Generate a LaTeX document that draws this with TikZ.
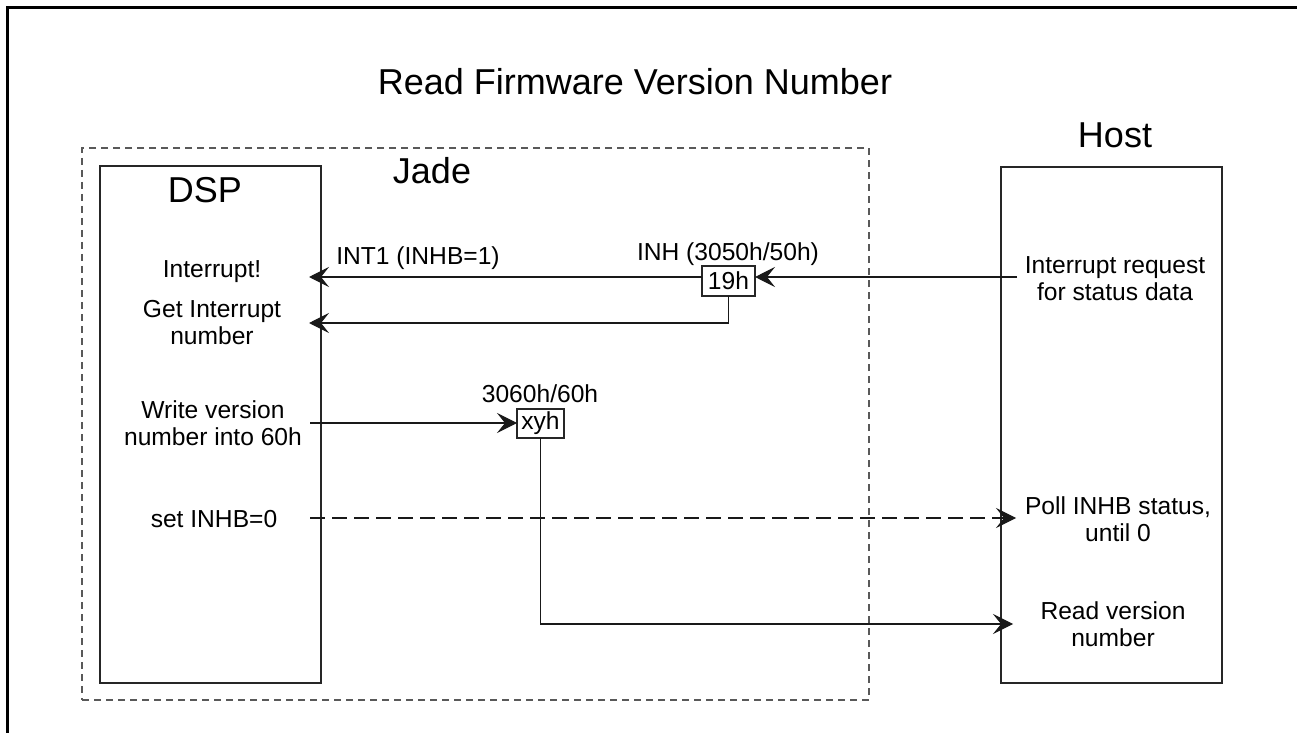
\documentclass[tikz,border=0pt]{standalone}
\usepackage{fontspec}
\setmainfont{Liberation Sans}
\usetikzlibrary{arrows.meta,calc}
\begin{document}
\begin{tikzpicture}[x=0.5pt,y=-0.5pt,
  lbl/.style={font=\fontsize{12.3}{13.5}\selectfont, align=center, inner sep=0pt},
  head/.style={font=\fontsize{18}{20}\selectfont, inner sep=0pt},
  panel/.style={draw=black!85, line width=0.6pt, inner sep=0pt, outer sep=0pt},
  regbox/.style={draw=black!85, line width=0.6pt, inner sep=0pt, outer sep=0pt,
    font=\fontsize{12.3}{13.5}\selectfont},
  arr/.style={draw=black!90, line width=0.55pt,
    -{Stealth[length=10pt,width=10pt,inset=4pt]}},
  dashline/.style={dash pattern=on 7.5pt off 3.5pt},
]
\useasboundingbox (0,0) rectangle (1297,733);
% outer frame (right and bottom lie outside the picture)
\draw[line width=1.5pt] (7,733) -- (7,8) -- (1297,8);

% title
\node[head, anchor=base] (title) at (635,95) {Read Firmware Version Number};

% Jade dashed container
\node[draw=black!65, dash pattern=on 3.5pt off 2.5pt, line width=0.55pt,
      minimum width=393.5pt, minimum height=276pt, inner sep=0pt] (jade) at (475.5,424) {};
\node[head, anchor=base] (jadelbl) at (432,184) {Jade};

% DSP and Host panels
\node[panel, minimum width=110.5pt, minimum height=258.5pt] (dsp) at (210.5,424.5) {};
\node[head, anchor=base] (dsplbl) at (205,203) {DSP};
\node[panel, minimum width=110.5pt, minimum height=258pt] (host) at (1111.5,425) {};
\node[head, anchor=base] (hostlbl) at (1115,148) {Host};

% DSP texts
\node[lbl, anchor=base] (intr) at (212,278) {Interrupt!};
\node[lbl] (getint) at (212,323) {Get Interrupt\\number};
\node[lbl] (writev) at (213,423) {Write version\\number into 60h};
\node[lbl] (setinhb) at (214,519) {set INHB=0};

% Host texts
\node[lbl] (irq) at (1115,279) {Interrupt request\\for status data};
\node[lbl] (poll) at (1118,519) {Poll INHB status,\\until 0};
\node[lbl] (readv) at (1113,624) {Read version\\number};

% registers
\node[regbox, minimum width=26.5pt, minimum height=15pt] (r19) at (728.5,281) {19h};
\node[lbl, anchor=base] (inhlbl) at (728,261) {INH (3050h/50h)};
\node[lbl, anchor=base] (int1lbl) at (418,264) {INT1 (INHB=1)};
\node[regbox, minimum width=23.5pt, minimum height=14.5pt] (xyh) at (540.5,423.5) {xyh};
\node[lbl, anchor=base] (r60lbl) at (540,402) {3060h/60h};

% connector end points
\coordinate (irqout) at (1017,277);
\coordinate (dspin1) at (309,277);
\coordinate (dspin2) at (309,323);
\coordinate (dspout3) at (310,423);
\coordinate (dspout4) at (310,518);
\coordinate (hostin4) at (1016,518);
\coordinate (hostin5) at (1013,624);

% connectors
\draw[arr] (irqout) -- (irqout -| r19.east);
\draw[arr] (irqout -| r19.west) -- (dspin1);
\draw[arr] (r19.south) |- (dspin2);
\draw[arr] (dspout3) -- (dspout3 -| xyh.west);
\draw[arr, dashline] (dspout4) -- (hostin4);
\draw[arr] (xyh.south) |- (hostin5);
\end{tikzpicture}
\end{document}
